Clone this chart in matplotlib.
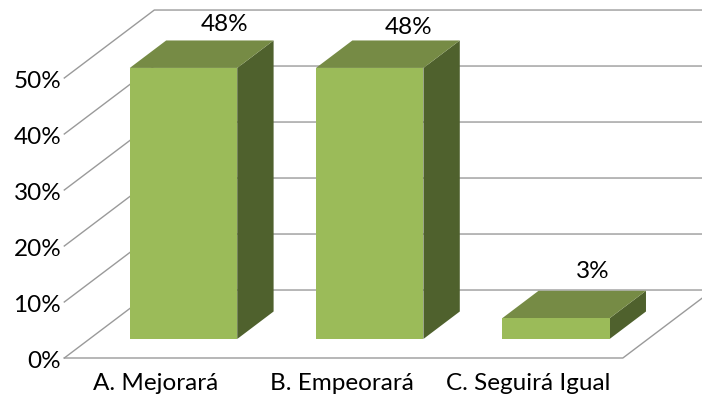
import matplotlib
matplotlib.use('Agg')
import matplotlib.pyplot as plt
from matplotlib.patches import Polygon

categories = ['A. Mejorará', 'B. Empeorará', 'C. Seguirá Igual']
values = [48.4, 48.4, 3.7]
value_labels = ['48%', '48%', '3%']
y_ticks = [0, 10, 20, 30, 40, 50]
y_tick_labels = ['0%', '10%', '20%', '30%', '40%', '50%']

plt.rcParams['font.family'] = ['Lato', 'DejaVu Sans']

# 3D look: one unit of depth shifts a point right and up on the same axes
DEPTH_X = 0.4834
DEPTH_Y = 12.14
BAR_FRONT = 0.28
BAR_BACK = 0.684
BAR_HALF = 0.2885
BAR_SHIFT = 0.005

FRONT = '#9BBB59'
TOP = '#768B45'
SIDE = '#4F612D'
GRID = '#9A9A9A'
FONT_SIZE = 17.5

# pixel nudges of the value labels from the back of each top face
LABEL_OFFSETS = [(6, 16), (3, 13), (1, 19)]


def pt(x, val, d):
    return (x + DEPTH_X * d, val + DEPTH_Y * d)


fig = plt.figure(figsize=(7.02, 4.0), dpi=100)
ax = fig.add_axes([0, 0, 1, 1])
ax.set_xlim(-0.8453, 2.925)
ax.set_ylim(-7.5, 63.93)
ax.axis('off')

left = -0.5
right = 2.5

# side wall and back wall gridlines
for t in y_ticks:
    p0 = pt(left, t, 0)
    p1 = pt(left, t, 1)
    p2 = pt(right, t, 1)
    ax.plot([p0[0], p1[0], p2[0]], [p0[1], p1[1], p2[1]], color=GRID, lw=1.0, zorder=1)

# floor front edge and right edge
p0 = pt(left, 0, 0)
p1 = pt(right, 0, 0)
p2 = pt(right, 0, 1)
ax.plot([p0[0], p1[0], p2[0]], [p0[1], p1[1], p2[1]], color=GRID, lw=1.0, zorder=1)

for i, v in enumerate(values):
    x0 = i - BAR_HALF + BAR_SHIFT
    x1 = i + BAR_HALF + BAR_SHIFT
    # side face
    ax.add_patch(Polygon([pt(x1, 0, BAR_FRONT), pt(x1, 0, BAR_BACK),
                          pt(x1, v, BAR_BACK), pt(x1, v, BAR_FRONT)],
                         closed=True, fc=SIDE, ec='none', zorder=3))
    # top face
    ax.add_patch(Polygon([pt(x0, v, BAR_FRONT), pt(x1, v, BAR_FRONT),
                          pt(x1, v, BAR_BACK), pt(x0, v, BAR_BACK)],
                         closed=True, fc=TOP, ec='none', zorder=3))
    # front face
    ax.add_patch(Polygon([pt(x0, 0, BAR_FRONT), pt(x1, 0, BAR_FRONT),
                          pt(x1, v, BAR_FRONT), pt(x0, v, BAR_FRONT)],
                         closed=True, fc=FRONT, ec='none', zorder=4))
    # value label above the top face
    ax.annotate(value_labels[i], xy=pt(i, v, BAR_BACK), xytext=LABEL_OFFSETS[i], textcoords='offset pixels',
                ha='center', va='center', fontsize=FONT_SIZE, color='black', zorder=5)
    # category label under the floor
    ax.annotate(categories[i], xy=(i, 0), xytext=(-1.5, -25), textcoords='offset pixels',
                ha='center', va='center', fontsize=FONT_SIZE, color='black', zorder=5)

# y tick labels
for t, lab in zip(y_ticks, y_tick_labels):
    ax.annotate(lab, xy=(left, t), xytext=(-3, -3), textcoords='offset pixels',
                ha='right', va='center', fontsize=FONT_SIZE, color='black', zorder=5)

fig.savefig('out.png', dpi=100)
plt.close(fig)
